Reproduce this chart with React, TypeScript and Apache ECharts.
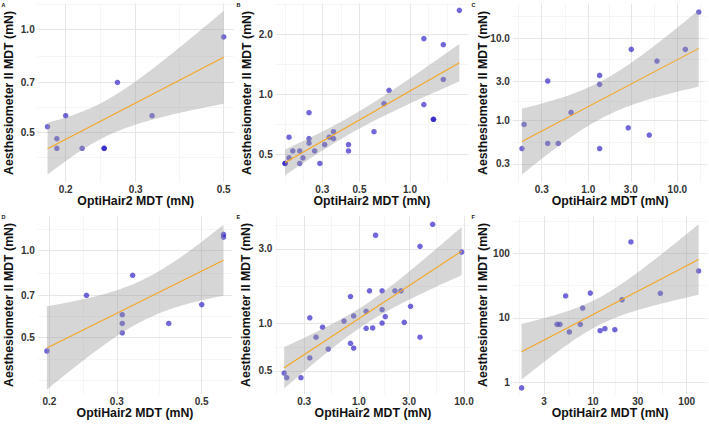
import React, { useEffect, useRef } from "react";
import * as echarts from "echarts";

// ---------- data (mN) ----------
const aX = [0.5, 0.27, 0.2, 0.33, 0.18, 0.19, 0.19, 0.22, 0.25, 0.25];
const aY = [0.95, 0.7, 0.56, 0.56, 0.52, 0.48, 0.45, 0.45, 0.45, 0.45];

const bX = [1.97, 1.21, 1.58, 1.58, 0.75, 0.7, 1.21, 1.38, 1.38, 0.25, 0.61, 0.35, 0.33, 0.35, 0.25, 0.19, 0.25, 0.31, 0.43, 0.43, 0.27, 0.2, 0.22, 0.19, 0.23, 0.22, 0.29, 0.18, 0.18];
const bY = [2.65, 1.91, 1.78, 1.19, 1.05, 0.9, 0.89, 0.75, 0.75, 0.81, 0.65, 0.65, 0.61, 0.6, 0.6, 0.61, 0.57, 0.56, 0.56, 0.52, 0.52, 0.52, 0.52, 0.48, 0.48, 0.45, 0.45, 0.45, 0.45];

const cX = [17.4, 12.3, 3.04, 5.91, 1.34, 1.34, 0.35, 0.64, 0.19, 2.81, 4.84, 0.35, 0.46, 0.18, 1.34];
const cY = [20.6, 7.29, 7.29, 5.27, 3.53, 2.75, 3.02, 1.26, 0.9, 0.82, 0.67, 0.53, 0.53, 0.46, 0.46];

const dX = [0.57, 0.57, 0.5, 0.33, 0.25, 0.31, 0.31, 0.31, 0.41, 0.197];
const dY = [1.135, 1.11, 0.65, 0.82, 0.7, 0.6, 0.56, 0.52, 0.56, 0.45];

const eX = [5.03, 1.44, 3.81, 9.5, 1.26, 1.66, 2.2, 2.51, 0.83, 3.1, 1.66, 1.17, 0.89, 1.78, 0.34, 0.72, 1.66, 2.7, 0.45, 1.17, 1.35, 0.39, 3.81, 0.83, 0.89, 0.51, 0.34, 0.194, 0.205, 0.28];
const eY = [4.3, 3.66, 3.11, 2.86, 1.62, 1.62, 1.62, 1.62, 1.49, 1.29, 1.23, 1.2, 1.12, 1.11, 1.09, 1.04, 1.01, 1.02, 0.95, 0.935, 0.94, 0.82, 0.82, 0.75, 0.7, 0.69, 0.605, 0.485, 0.453, 0.453];

const fX = [25.4, 134, 52.3, 9.36, 5.1, 20.4, 7.76, 4.13, 4.44, 7.32, 5.59, 11.9, 13.4, 17.1, 1.73];
const fY = [152, 53.6, 24.1, 24.3, 21.9, 19.1, 14.2, 7.9, 7.9, 7.9, 6.01, 6.3, 6.77, 6.53, 0.81];

// ---------- tick labels ----------
const aXTicks = ["0.2", "0.3", "0.5"];
const aYTicks = ["0.5", "0.7", "1.0"];
const bXTicks = ["0.3", "0.5", "1.0"];
const bYTicks = ["0.5", "1.0", "2.0"];
const cXTicks = ["0.3", "1.0", "3.0", "10.0"];
const cYTicks = ["0.3", "1.0", "3.0", "10.0"];
const dXTicks = ["0.2", "0.3", "0.5"];
const dYTicks = ["0.5", "0.7", "1.0"];
const eXTicks = ["0.3", "1.0", "3.0", "10.0"];
const eYTicks = ["0.5", "1.0", "3.0"];
const fXTicks = ["3", "10", "30", "100"];
const fYTicks = ["1", "10", "100"];

const tags = ["A", "B", "C", "D", "E", "F"];
const xTitle = "OptiHair2 MDT (mN)";
const yTitle = "Aesthesiometer II MDT (mN)";

// ---------- layout (pixels, axis ranges in log10 units) ----------
const layouts = [
  { left: 37.7, top: 3.7, width: 196.1, xr: [-0.7695, -0.2756], yr: [-0.4457, 0.0747], yTitleX: 9, tagX: 1.5 },
  { left: 275.7, top: 3.7, width: 192.4, xr: [-0.8008, 0.3465], yr: [-0.4411, 0.4567], yTitleX: 247, tagX: 236.5 },
  { left: 512.8, top: 3.7, width: 194.7, xr: [-0.848, 1.339], yr: [-0.744, 1.415], yTitleX: 483, tagX: 471.5 },
  { left: 37.9, top: 215.7, width: 194.2, xr: [-0.729, -0.2217], yr: [-0.4955, 0.119], yTitleX: 9, tagX: 1.5 },
  { left: 275.4, top: 215.7, width: 195.2, xr: [-0.796, 1.063], yr: [-0.449, 0.688], yTitleX: 245.5, tagX: 236.5 },
  { left: 512.8, top: 215.7, width: 194.7, xr: [0.144, 2.222], yr: [-0.19, 2.59], yTitleX: 482.5, tagX: 471.5 },
];
const PLOT_H = 178.5;

const FONT = "'Liberation Sans', Arial, Helvetica, sans-serif";

const panels = [
  { xs: aX, ys: aY, xt: aXTicks, yt: aYTicks },
  { xs: bX, ys: bY, xt: bXTicks, yt: bYTicks },
  { xs: cX, ys: cY, xt: cXTicks, yt: cYTicks },
  { xs: dX, ys: dY, xt: dXTicks, yt: dYTicks },
  { xs: eX, ys: eY, xt: eXTicks, yt: eYTicks },
  { xs: fX, ys: fY, xt: fXTicks, yt: fYTicks },
];

function tQuantile975(df: number) {
  const z = 1.959964;
  const z3 = z ** 3, z5 = z ** 5, z7 = z ** 7, z9 = z ** 9;
  const g1 = (z3 + z) / 4;
  const g2 = (5 * z5 + 16 * z3 + 3 * z) / 96;
  const g3 = (3 * z7 + 19 * z5 + 17 * z3 - 15 * z) / 384;
  const g4 = (79 * z9 + 776 * z7 + 1482 * z5 - 1920 * z3 - 945 * z) / 92160;
  return z + g1 / df + g2 / df ** 2 + g3 / df ** 3 + g4 / df ** 4;
}

function fitLm(xs: number[], ys: number[]) {
  const lx = xs.map(Math.log10);
  const ly = ys.map(Math.log10);
  const n = lx.length;
  const mx = lx.reduce((s, v) => s + v, 0) / n;
  const my = ly.reduce((s, v) => s + v, 0) / n;
  let sxx = 0, sxy = 0;
  for (let i = 0; i < n; i++) {
    sxx += (lx[i] - mx) ** 2;
    sxy += (lx[i] - mx) * (ly[i] - my);
  }
  const b = sxy / sxx;
  const a = my - b * mx;
  let sse = 0;
  for (let i = 0; i < n; i++) sse += (ly[i] - a - b * lx[i]) ** 2;
  const s = Math.sqrt(sse / (n - 2));
  const t = tQuantile975(n - 2);
  const x0 = Math.min(...lx), x1 = Math.max(...lx);
  const band: number[][] = [];
  const N = 80;
  for (let k = 0; k < N; k++) {
    const x = x0 + ((x1 - x0) * k) / (N - 1);
    const yh = a + b * x;
    const se = s * Math.sqrt(1 / n + (x - mx) ** 2 / sxx);
    band.push([x, yh - t * se, yh + t * se, yh]);
  }
  return { lx, ly, band, line: [[x0, a + b * x0], [x1, a + b * x1]] };
}

function minorBreaks(major: number[], lo: number, hi: number) {
  let b = [...major].sort((p, q) => p - q).filter((v) => v >= lo && v <= hi);
  if (b.length < 2) return [];
  const bd = b[1] - b[0];
  if (lo < b[0]) b = [b[0] - bd, ...b];
  if (hi > b[b.length - 1]) b = [...b, b[b.length - 1] + bd];
  const out: number[] = [];
  for (let i = 0; i < b.length - 1; i++) out.push(b[i], (b[i] + b[i + 1]) / 2);
  out.push(b[b.length - 1]);
  return out.filter((v) => v >= lo && v <= hi && !major.some((m) => Math.abs(m - v) < 1e-9));
}

function buildOption() {
  const grid: any[] = [];
  const xAxis: any[] = [];
  const yAxis: any[] = [];
  const series: any[] = [];
  const graphic: any[] = [];

  const labelStyle = { fontSize: 10, fontWeight: "bold", color: "#333333", fontFamily: FONT };
  const majorLine = { show: true, lineStyle: { color: "#e6e6e6", width: 1 } };
  const minorLine = { show: true, lineStyle: { color: "#f1f1f1", width: 0.7 } };

  panels.forEach((p, i) => {
    const L = layouts[i];
    const fit = fitLm(p.xs, p.ys);
    grid.push({ left: L.left, top: L.top, width: L.width, height: PLOT_H, containLabel: false, outerBoundsMode: "none" });

    const xMaj = p.xt.map((s) => Math.log10(parseFloat(s)));
    const yMaj = p.yt.map((s) => Math.log10(parseFloat(s)));
    const fmt = (labels: string[], logs: number[]) => (v: number) => {
      let best = 0;
      logs.forEach((l, k) => { if (Math.abs(l - v) < Math.abs(logs[best] - v)) best = k; });
      return labels[best];
    };

    // major axes
    xAxis.push({
      type: "value", gridIndex: i, min: L.xr[0], max: L.xr[1], position: "bottom",
      axisLine: { show: false }, axisTick: { show: false, customValues: xMaj },
      axisLabel: { ...labelStyle, margin: 2.5, customValues: xMaj, formatter: fmt(p.xt, xMaj) },
      splitLine: majorLine, z: 1,
    });
    yAxis.push({
      type: "value", gridIndex: i, min: L.yr[0], max: L.yr[1], position: "left",
      axisLine: { show: false }, axisTick: { show: false, customValues: yMaj },
      axisLabel: { ...labelStyle, margin: 3, customValues: yMaj, formatter: fmt(p.yt, yMaj) },
      splitLine: majorLine, z: 1,
    });
    // minor grid axes
    xAxis.push({
      type: "value", gridIndex: i, min: L.xr[0], max: L.xr[1], position: "bottom",
      axisLine: { show: false }, axisTick: { show: false, customValues: minorBreaks(xMaj, L.xr[0], L.xr[1]) },
      axisLabel: { show: false }, splitLine: minorLine, z: 0,
    });
    yAxis.push({
      type: "value", gridIndex: i, min: L.yr[0], max: L.yr[1], position: "left",
      axisLine: { show: false }, axisTick: { show: false, customValues: minorBreaks(yMaj, L.yr[0], L.yr[1]) },
      axisLabel: { show: false }, splitLine: minorLine, z: 0,
    });

    const xi = 2 * i, yi = 2 * i;
    series.push({
      type: "scatter", xAxisIndex: xi, yAxisIndex: yi, z: 2,
      symbolSize: 5.5,
      itemStyle: { color: "#1e0fc3", opacity: 0.63 },
      data: fit.lx.map((x, k) => [x, fit.ly[k]]),
      silent: true,
    });
    const band = fit.band;
    series.push({
      type: "custom", xAxisIndex: xi, yAxisIndex: yi, z: 3, silent: true,
      data: band.map((b) => [b[0], b[1], b[2]]),
      encode: { x: 0, y: [1, 2] },
      renderItem: (params: any, api: any) => {
        if (params.dataIndex !== 0) return null;
        const upper = band.map((b) => api.coord([b[0], b[2]]));
        const lower = band.slice().reverse().map((b) => api.coord([b[0], b[1]]));
        return {
          type: "polygon",
          shape: { points: upper.concat(lower) },
          style: { fill: "rgba(153,153,153,0.4)" },
        };
      },
    });
    series.push({
      type: "line", xAxisIndex: xi, yAxisIndex: yi, z: 4, silent: true,
      showSymbol: false, symbol: "none",
      lineStyle: { color: "#f5a623", width: 1.1 },
      data: fit.line,
    });

    // titles
    graphic.push({
      type: "text", x: L.left + L.width / 2, y: L.top + PLOT_H + 18.5, silent: true,
      style: { text: xTitle, fill: "#111", font: `bold 12.3px ${FONT}`, textAlign: "center", textVerticalAlign: "middle" },
    });
    graphic.push({
      type: "text", x: L.yTitleX, y: L.top + PLOT_H / 2, rotation: Math.PI / 2, silent: true,
      style: { text: yTitle, fill: "#111", font: `bold 12.3px ${FONT}`, textAlign: "center", textVerticalAlign: "middle" },
    });
    graphic.push({
      type: "text", x: L.tagX, y: L.top - 2.2, silent: true,
      style: { text: tags[i], fill: "#111", font: `bold 5.5px ${FONT}`, textAlign: "left", textVerticalAlign: "top" },
    });
  });

  return { animation: false, backgroundColor: "#ffffff", grid, xAxis, yAxis, series, graphic };
}

export default function App() {
  const ref = useRef<HTMLDivElement>(null);
  useEffect(() => {
    if (!ref.current) return;
    const chart = echarts.init(ref.current, undefined, { renderer: "svg" });
    chart.setOption(buildOption() as any);
    return () => chart.dispose();
  }, []);
  return (
    <div
      ref={ref}
      style={{ position: "absolute", left: 0, top: 0, width: 709, height: 424, background: "#fff" }}
    />
  );
}
